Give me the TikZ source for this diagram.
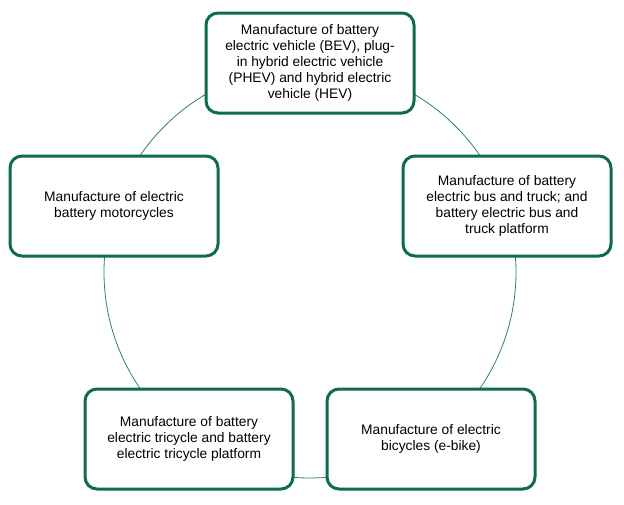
\documentclass[tikz,border=0pt]{standalone}
\usepackage{fontspec}
\setmainfont{Liberation Sans}
\definecolor{dg}{HTML}{0E6B4C}
\definecolor{cg}{HTML}{2E8068}
\begin{document}
\begin{tikzpicture}[x=1pt,y=-1pt,
  box/.style={draw=dg,line width=3pt,rounded corners=12pt,fill=white,minimum width=208pt,minimum height=100pt,align=center,font=\fontsize{13.8}{16.2}\selectfont,inner sep=0pt}]
\useasboundingbox (0,0) rectangle (624,504);
\coordinate (c) at (310,272);
\draw[cg,line width=0.8pt] (c) circle (206);
\node[box] (top) at (310,63) {Manufacture of battery\\electric vehicle (BEV), plug-\\in hybrid electric vehicle\\(PHEV) and hybrid electric\\vehicle (HEV)};
\node[box] (left) at (114,206) {Manufacture of electric\\battery motorcycles};
\node[box] (right) at (507,206) {Manufacture of battery\\electric bus and truck; and\\battery electric bus and\\truck platform};
\node[box] (bl) at (189,439) {Manufacture of battery\\electric tricycle and battery\\electric tricycle platform};
\node[box] (br) at (431,439) {Manufacture of electric\\bicycles (e-bike)};
\end{tikzpicture}
\end{document}
